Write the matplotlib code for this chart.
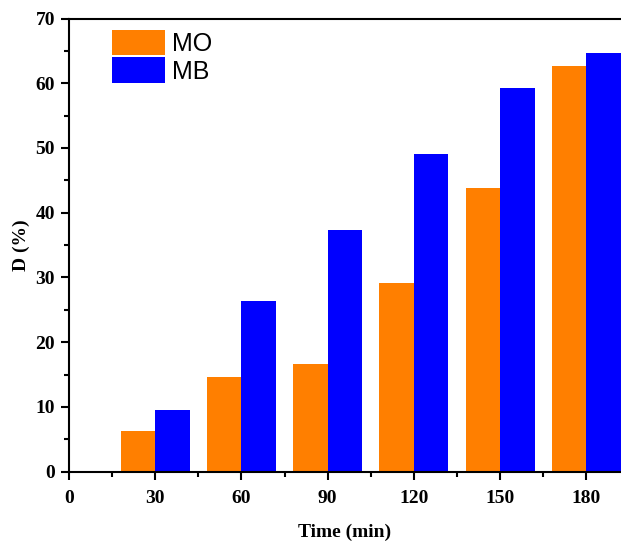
import matplotlib.pyplot as plt
from matplotlib.ticker import MultipleLocator
import numpy as np

times = [30, 60, 90, 120, 150, 180]
mo = [6.3, 14.6, 16.7, 29.1, 43.8, 62.6]
mb = [9.6, 26.3, 37.4, 49.0, 59.2, 64.7]

plt.rcParams['font.family'] = 'Liberation Serif'
plt.rcParams['font.weight'] = 'bold'

fig = plt.figure(figsize=(6.21, 5.43), dpi=100)
ax = fig.add_axes([0.111, 0.1313, 0.889, 0.8346])

w = 12
x = np.array(times)
ax.bar(x - w / 2, mo, width=w, color='#ff7f00', label='MO')
ax.bar(x + w / 2, mb, width=w, color='#0000ff', label='MB')

ax.set_xlim(0, 192)
ax.set_ylim(0, 70)
ax.xaxis.set_major_locator(MultipleLocator(30))
ax.xaxis.set_minor_locator(MultipleLocator(15))
ax.yaxis.set_major_locator(MultipleLocator(10))
ax.yaxis.set_minor_locator(MultipleLocator(5))
ax.tick_params(which='major', length=6, width=1.5, labelsize=14, direction='out')
ax.tick_params(which='minor', length=3.5, width=1.5, direction='out')
ax.tick_params(axis='x', pad=7)
ax.tick_params(axis='y', pad=4)
for s in ['left', 'bottom', 'top']:
    ax.spines[s].set_linewidth(1.5)
ax.spines['right'].set_visible(False)

ax.set_xlabel('Time (min)', fontsize=14, fontweight='bold', labelpad=12)
ax.set_ylabel('D (%)', fontsize=14, fontweight='bold', labelpad=4)

leg = ax.legend(loc='upper left', bbox_to_anchor=(0.078, 0.975), frameon=False,
                prop={'family': 'Liberation Sans', 'weight': 'normal', 'size': 18},
                handlelength=2.12, handleheight=1.2, handletextpad=0.3,
                labelspacing=0.05, borderaxespad=0, borderpad=0)

fig.savefig('out.png', dpi=100)
